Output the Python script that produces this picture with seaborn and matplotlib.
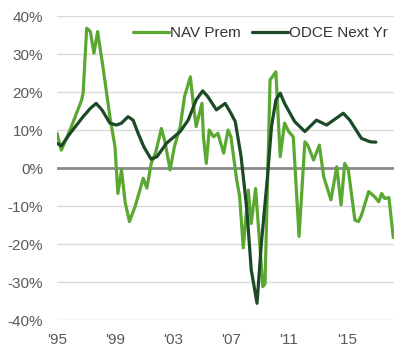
import matplotlib
matplotlib.use("Agg")
import matplotlib.pyplot as plt
import seaborn as sns
import pandas as pd
from matplotlib.ticker import FuncFormatter

# ---- data (decimal year, percent) ----
nav_years = [1995.0, 1995.3, 1995.9, 1996.7, 1996.8, 1997.05, 1997.3, 1997.55, 1997.8,
             1998.2, 1998.65, 1999.0, 1999.2, 1999.45, 1999.7, 2000.0, 2000.4, 2000.95,
             2001.2, 2001.5, 2001.8, 2002.2, 2002.45, 2002.8, 2003.1, 2003.5, 2003.8,
             2004.2, 2004.4, 2004.6, 2005.0, 2005.1, 2005.3, 2005.5, 2005.8, 2006.1,
             2006.5, 2006.8, 2007.0, 2007.4, 2007.6, 2007.85, 2008.2, 2008.4, 2008.7,
             2009.0, 2009.2, 2009.35, 2009.7, 2010.1, 2010.4, 2010.7, 2011.0, 2011.3,
             2011.7, 2012.1, 2012.3, 2012.7, 2013.1, 2013.4, 2013.9, 2014.3, 2014.6,
             2014.85, 2015.1, 2015.55, 2015.8, 2016.0, 2016.5, 2016.9, 2017.2, 2017.4,
             2017.6, 2017.9, 2018.2]
nav_prem = [9.1, 4.7, 10.0, 17.9, 19.7, 36.8, 35.9, 30.2, 35.9,
            25.8, 13.5, 5.6, -6.7, -0.5, -9.0, -14.1, -10.0, -2.7,
            -5.3, 1.2, 4.0, 10.4, 6.9, -0.5, 5.6, 10.9, 18.8,
            24.0, 17.0, 10.9, 17.0, 8.2, 1.2, 10.0, 8.2, 9.1,
            3.9, 10.0, 8.2, -3.2, -7.5, -21.0, -5.8, -14.6, -5.4,
            -20.7, -31.2, -30.5, 23.2, 25.3, 3.0, 11.8, 9.5, 8.2,
            -18.0, 6.9, 6.0, 2.1, 6.0, -2.3, -8.4, 0.3, -9.7,
            1.2, -0.5, -13.7, -14.1, -12.5, -6.2, -7.5, -8.9, -6.7,
            -8.0, -7.8, -18.3]

odce_years = [1995.0, 1995.3, 1995.9, 1996.35, 1996.8, 1997.3, 1997.7, 1998.1, 1998.65,
              1999.1, 1999.45, 1999.9, 2000.25, 2000.6, 2001.0, 2001.5, 2001.9, 2002.55,
              2003.5, 2004.05, 2004.6, 2005.05, 2005.4, 2006.0, 2006.6, 2007.0, 2007.3,
              2007.7, 2008.1, 2008.4, 2008.8, 2009.1, 2009.5, 2009.8, 2010.1, 2010.4,
              2010.7, 2011.4, 2012.1, 2012.9, 2013.6, 2014.75, 2015.2, 2016.0, 2016.6,
              2017.0]
odce_next = [6.5, 5.8, 9.1, 11.3, 13.5, 15.7, 17.0, 15.3, 11.8,
             11.3, 11.8, 13.5, 12.6, 9.1, 5.5, 2.3, 3.0, 6.5,
             9.6, 12.6, 17.9, 20.3, 18.8, 15.3, 17.0, 14.4, 12.2,
             3.0, -11.0, -26.8, -35.6, -19.8, -3.2, 10.9, 17.9, 19.7,
             17.0, 12.2, 9.6, 12.6, 11.3, 14.4, 12.6, 7.8, 6.9,
             6.8]

x_ticks = [1995, 1999, 2003, 2007, 2011, 2015]
x_tick_labels = ["'95", "'99", "'03", "'07", "'11", "'15"]
y_ticks = [-40, -30, -20, -10, 0, 10, 20, 30, 40]

series_names = ["NAV Prem", "ODCE Next Yr"]
colors = ["#5aa832", "#1c4a26"]

df = pd.concat([
    pd.DataFrame({"year": nav_years, "value": nav_prem, "series": series_names[0]}),
    pd.DataFrame({"year": odce_years, "value": odce_next, "series": series_names[1]}),
])

sns.set_theme(style="white")
plt.rcParams["font.family"] = ["Liberation Sans", "DejaVu Sans"]
plt.rcParams["lines.solid_joinstyle"] = "round"
plt.rcParams["lines.solid_capstyle"] = "round"

fig = plt.figure(figsize=(4.2, 3.56), dpi=100)
ax = fig.add_axes([57 / 420, 36 / 356, 337 / 420, 304 / 356])

for ytk in y_ticks:
    if ytk == 0:
        ax.axhline(0, color="#8a8a8a", lw=2.0, zorder=1)
    else:
        ax.axhline(ytk, color="#d9d9d9", lw=1.0, zorder=0)

sns.lineplot(data=df, x="year", y="value", hue="series", hue_order=series_names,
             palette=colors, linewidth=2.3, ax=ax, sort=False, zorder=3)
for ln in ax.get_lines():
    ln.set_solid_joinstyle("round")
    ln.set_solid_capstyle("round")

ax.set_xlim(1995.0, 2018.25)
ax.set_ylim(-40, 40)
ax.set_xticks(x_ticks)
ax.set_xticklabels(x_tick_labels)
ax.set_yticks(y_ticks)
ax.yaxis.set_major_formatter(FuncFormatter(lambda v, p: f"{int(v)}%"))
ax.tick_params(axis="both", length=0, labelsize=11, colors="#595959")
ax.tick_params(axis="y", pad=10)
ax.tick_params(axis="x", pad=9)
ax.set_xlabel("")
ax.set_ylabel("")
for s in ax.spines.values():
    s.set_visible(False)

leg = ax.legend(loc="center right", bbox_to_anchor=(0.982, 0.944), ncol=2,
                frameon=False, fontsize=11, handlelength=2.4, handletextpad=0.05,
                columnspacing=0.7, borderpad=0, borderaxespad=0)
for t in leg.get_texts():
    t.set_color("#333333")
for h in leg.get_lines():
    h.set_linewidth(2.3)

fig.savefig("out.png", dpi=100)
